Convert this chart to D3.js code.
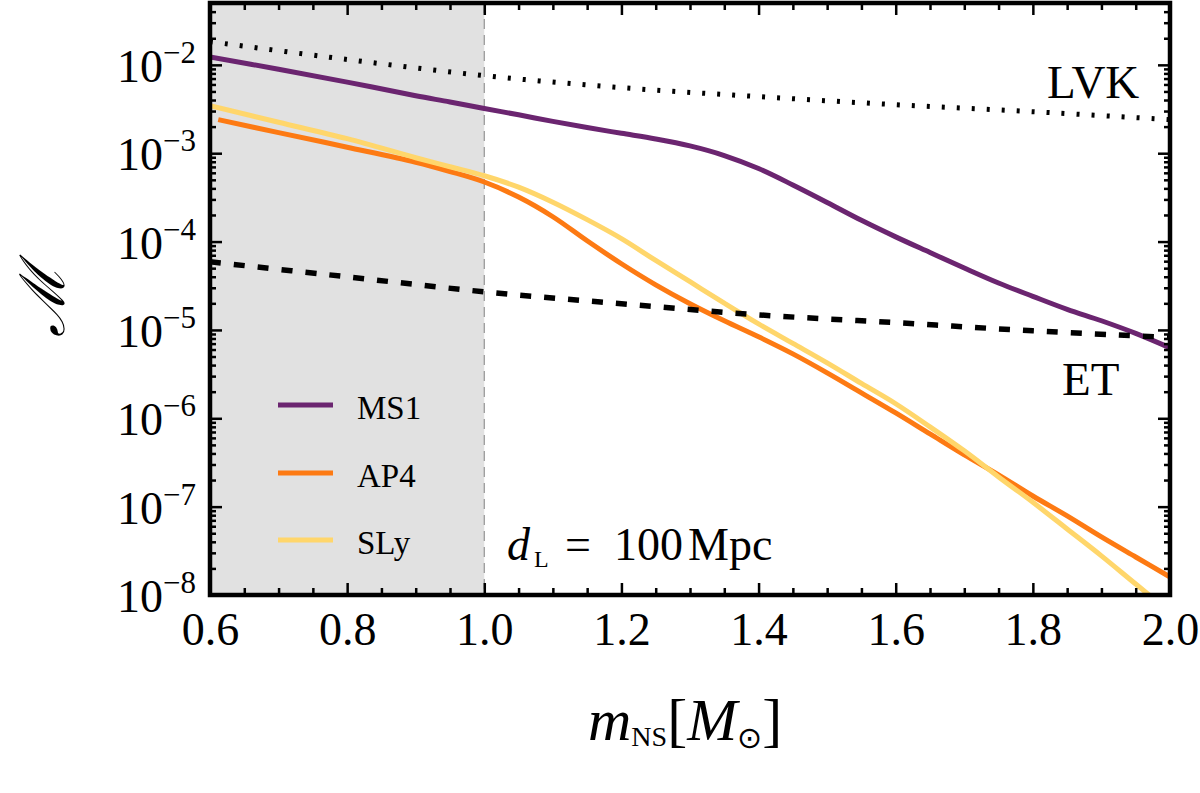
<!DOCTYPE html>
<html>
<head>
<meta charset="utf-8">
<script src="https://cdn.jsdelivr.net/npm/d3@7"></script>
<style>
  body { margin: 0; background: #fff; }
  svg { display: block; font-family: "Liberation Serif", "DejaVu Serif", serif; }
</style>
</head>
<body>
<div id="chart"></div>
<script>
const masses = [0.6, 0.7, 0.8, 0.9, 0.95, 1.0, 1.05, 1.1, 1.15, 1.2, 1.25, 1.3, 1.35,
    1.4, 1.45, 1.5, 1.55, 1.6, 1.65, 1.7, 1.75, 1.8, 1.85, 1.9, 1.95, 2.0];
// AP4 starts a little to the right of 0.6
const massesAP4 = [0.612, 0.7, 0.8, 0.9, 0.95, 1.0, 1.05, 1.1, 1.15, 1.2, 1.25, 1.3, 1.35,
    1.4, 1.45, 1.5, 1.55, 1.6, 1.65, 1.7, 1.75, 1.8, 1.85, 1.9, 1.95, 2.0];

const ms1 = [1.23e-2, 8.91e-3, 6.38e-3, 4.47e-3, 3.80e-3, 3.20e-3, 2.72e-3, 2.29e-3, 1.95e-3,
    1.68e-3, 1.45e-3, 1.21e-3, 9.42e-4, 6.71e-4, 4.37e-4, 2.77e-4, 1.74e-4, 1.13e-4, 7.52e-5,
    5.02e-5, 3.40e-5, 2.40e-5, 1.71e-5, 1.27e-5, 9.14e-6, 6.27e-6];
const ap4 = [2.40e-3, 1.71e-3, 1.17e-3, 7.91e-4, 6.21e-4, 4.72e-4, 3.19e-4, 1.91e-4, 1.02e-4,
    5.61e-5, 3.24e-5, 1.98e-5, 1.27e-5, 8.36e-6, 5.36e-6, 3.27e-6, 1.94e-6, 1.15e-6, 6.65e-7,
    3.85e-7, 2.29e-7, 1.32e-7, 7.85e-8, 4.54e-8, 2.69e-8, 1.60e-8];
const sly = [3.45e-3, 2.24e-3, 1.46e-3, 8.89e-4, 7.03e-4, 5.56e-4, 4.13e-4, 2.79e-4, 1.77e-4,
    1.08e-4, 6.12e-5, 3.51e-5, 2.01e-5, 1.17e-5, 7.05e-6, 4.24e-6, 2.48e-6, 1.46e-6, 8.00e-7,
    4.28e-7, 2.17e-7, 1.12e-7, 5.58e-8, 2.77e-8, 1.33e-8, 6.46e-9];

// detector sensitivity curves
const detMasses = [0.6, 0.8, 1.0, 1.2, 1.4, 1.6, 1.8, 2.0];
const lvk = [1.83e-2, 1.15e-2, 7.55e-3, 5.52e-3, 4.37e-3, 3.54e-3, 2.95e-3, 2.40e-3];
const et = [5.90e-5, 3.99e-5, 2.70e-5, 1.98e-5, 1.48e-5, 1.21e-5, 9.77e-6, 8.24e-6];

const xTickLabels = [0.6, 0.8, 1.0, 1.2, 1.4, 1.6, 1.8, 2.0];
const yTickExponents = [-8, -7, -6, -5, -4, -3, -2];

const eosNames = ["MS1", "AP4", "SLy"];
const eosColors = ["#6b2570", "#fd7a13", "#ffd66b"];

// layout
const W = 1200, H = 793;
const plot = { left: 210, right: 1170, top: 3, bottom: 595 };

const svg = d3.select("#chart").append("svg")
    .attr("width", W)
    .attr("height", H);

const x = d3.scaleLinear().domain([0.6, 2.0]).range([plot.left, plot.right]);
const y = d3.scaleLog().domain([1e-8, Math.pow(10, -1.3)]).range([plot.bottom, plot.top]);

svg.append("defs").append("clipPath").attr("id", "clip")
    .append("rect")
    .attr("x", plot.left).attr("y", plot.top)
    .attr("width", plot.right - plot.left).attr("height", plot.bottom - plot.top);

// shaded region below 1 solar mass
svg.append("rect")
    .attr("x", x(0.6)).attr("y", plot.top)
    .attr("width", x(1.0) - x(0.6)).attr("height", plot.bottom - plot.top)
    .attr("fill", "#e1e1e1");
svg.append("line")
    .attr("x1", x(1.0)).attr("x2", x(1.0))
    .attr("y1", plot.top).attr("y2", plot.bottom)
    .attr("stroke", "#9a9a9a").attr("stroke-width", 1.3)
    .attr("stroke-dasharray", "10,6");

// smooth curves through the read-off points
const line = d3.line()
    .x(d => x(d[0]))
    .y(d => y(d[1]))
    .curve(d3.curveCatmullRom.alpha(0.5));

const curves = svg.append("g").attr("clip-path", "url(#clip)");

const eosSeries = [
    d3.zip(masses, ms1),
    d3.zip(massesAP4, ap4),
    d3.zip(masses, sly)
];
eosSeries.forEach((data, i) => {
    curves.append("path")
        .attr("d", line(data))
        .attr("fill", "none")
        .attr("stroke", eosColors[i])
        .attr("stroke-width", 5);
});

// LVK (dotted) and ET (dashed)
curves.append("path")
    .attr("d", line(d3.zip(detMasses, lvk)))
    .attr("fill", "none").attr("stroke", "#000")
    .attr("stroke-width", 5).attr("stroke-dasharray", "3,12");
curves.append("path")
    .attr("d", line(d3.zip(detMasses, et)))
    .attr("fill", "none").attr("stroke", "#000")
    .attr("stroke-width", 5.5).attr("stroke-dasharray", "11,13");

// ticks on all four sides, pointing inwards
const xMinor = d3.range(0.65, 2.0, 0.05).filter(v => Math.abs(v * 5 - Math.round(v * 5)) > 1e-6);
const yMajor = yTickExponents.map(e => Math.pow(10, e));
const yMinor = y.ticks().filter(v => Math.abs(Math.log10(v) - Math.round(Math.log10(v))) > 1e-6);

function tickGroup(axis, transform) {
    const g = svg.append("g").attr("transform", transform).call(axis);
    g.select(".domain").remove();
    g.selectAll("line").attr("stroke", "#000").attr("stroke-width", 2.5);
    return g;
}

tickGroup(d3.axisBottom(x).tickValues(xMinor).tickSize(-7).tickFormat(""), `translate(0,${plot.bottom})`);
tickGroup(d3.axisTop(x).tickValues(xMinor).tickSize(-7).tickFormat(""), `translate(0,${plot.top})`);
tickGroup(d3.axisTop(x).tickValues(xTickLabels).tickSize(-12).tickFormat(""), `translate(0,${plot.top})`);
const xAxis = tickGroup(d3.axisBottom(x).tickValues(xTickLabels).tickSize(-12)
    .tickPadding(17).tickFormat(d3.format(".1f")), `translate(0,${plot.bottom})`);
xAxis.selectAll("text")
    .attr("font-family", "Liberation Serif, serif")
    .attr("font-size", 46)
    .attr("fill", "#000");

tickGroup(d3.axisLeft(y).tickValues(yMinor).tickSize(-6).tickFormat(""), `translate(${plot.left},0)`);
tickGroup(d3.axisLeft(y).tickValues(yMajor).tickSize(-12).tickFormat(""), `translate(${plot.left},0)`);
tickGroup(d3.axisRight(y).tickValues(yMinor).tickSize(-6).tickFormat(""), `translate(${plot.right},0)`);
tickGroup(d3.axisRight(y).tickValues(yMajor).tickSize(-12).tickFormat(""), `translate(${plot.right},0)`);

// y tick labels as powers of ten
const yLabels = svg.append("g");
yTickExponents.forEach(e => {
    const t = yLabels.append("text")
        .attr("x", 196)
        .attr("y", y(Math.pow(10, e)) + 17)
        .attr("text-anchor", "end")
        .attr("font-size", 46);
    t.append("tspan").text("10");
    t.append("tspan").attr("font-size", 31).attr("dy", -19).text("\u2212" + Math.abs(e));
});

// frame
svg.append("rect")
    .attr("x", plot.left).attr("y", plot.top)
    .attr("width", plot.right - plot.left).attr("height", plot.bottom - plot.top)
    .attr("fill", "none").attr("stroke", "#000").attr("stroke-width", 4.5);

// legend
const legend = svg.append("g");
const legendY = [405, 473, 540];
eosNames.forEach((name, i) => {
    legend.append("line")
        .attr("x1", 278).attr("x2", 333)
        .attr("y1", legendY[i]).attr("y2", legendY[i])
        .attr("stroke", eosColors[i]).attr("stroke-width", 5);
    legend.append("text")
        .attr("x", 357).attr("y", legendY[i] + 14)
        .attr("font-size", 33)
        .text(name);
});

// detector labels
svg.append("text").attr("x", 1047).attr("y", 98).attr("font-size", 47).text("LVK");
svg.append("text").attr("x", 1062).attr("y", 395).attr("font-size", 47).text("ET");

// distance annotation
const dl = svg.append("text").attr("y", 560).attr("font-size", 46);
dl.append("tspan").attr("x", 507).attr("font-style", "italic").text("d");
dl.append("tspan").attr("x", 534).attr("dy", 7).attr("font-size", 24).text("L");
dl.append("tspan").attr("x", 565).attr("dy", -7).text("=");
dl.append("tspan").attr("x", 614).text("100");
dl.append("tspan").attr("x", 688).text("Mpc");

// x axis title
const xt = svg.append("text").attr("x", 588).attr("y", 740).attr("font-size", 60);
xt.append("tspan").attr("font-style", "italic").text("m");
xt.append("tspan").attr("font-size", 28).attr("dy", 6).text("NS");
xt.append("tspan").attr("dy", -6).text("[");
xt.append("tspan").attr("font-style", "italic").text("M");
xt.append("tspan").attr("font-size", 30).attr("dy", 8).attr("font-family", "DejaVu Sans").text("\u2299");
xt.append("tspan").attr("dy", -8).text("]");

// y axis title
svg.append("text")
    .attr("transform", "translate(43,301) rotate(-90)")
    .attr("text-anchor", "middle")
    .attr("dominant-baseline", "central")
    .attr("font-size", 62)
    .attr("font-style", "italic")
    .text("\u2133");
</script>
</body>
</html>
